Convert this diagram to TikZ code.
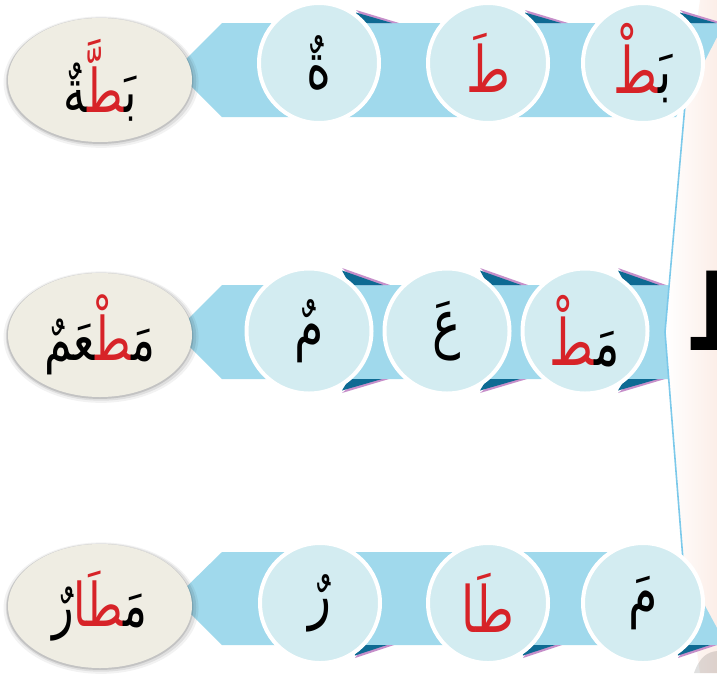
\documentclass[tikz,border=0pt]{standalone}
\usepackage{fontspec}
\usepackage{graphicx}
\newfontfamily\arabicfont[Script=Arabic]{DejaVu Sans}
\usetikzlibrary{shapes.geometric,shadows}
\definecolor{bandblue}{HTML}{A0D9EC}
\definecolor{circfill}{HTML}{D3ECF1}
\definecolor{ellfill}{HTML}{EFEDE3}
\definecolor{arred}{HTML}{D72328}
\definecolor{folddark}{HTML}{0E6A93}
\definecolor{foldpink}{HTML}{C68FCA}
\definecolor{panelpink}{HTML}{FCEEE8}
\definecolor{panelline}{HTML}{7CC9EA}
\newcommand\zj{^^^^200d}
\newcommand\rd[1]{\textcolor{arred}{#1}}
\newcommand\ar[1]{\scalebox{0.95}[1.28]{#1}}
\newcommand\topfold[4]{%
  \fill[foldpink] (#1,#2) -- (#3,#4) -- (#3-30,#4) -- cycle;
  \fill[folddark] (#1,#2+2.5) -- (#3-7,#4) -- (#3-40,#4) -- cycle;}
\newcommand\botfold[4]{%
  \fill[foldpink] (#1,#2) -- (#3,#4) -- (#3-30,#4) -- cycle;
  \fill[folddark] (#1,#2-2.5) -- (#3-7,#4) -- (#3-40,#4) -- cycle;}
\begin{document}
\begin{tikzpicture}[x=1pt,y=-1pt,
  disc/.style={circle, fill=circfill, draw=white, line width=4pt, minimum size=120pt, inner sep=0pt,
    font=\arabicfont\fontsize{50}{60}\selectfont},
  bigdisc/.style={disc, minimum size=125pt},
  word/.style={ellipse, fill=ellfill, minimum width=184pt, minimum height=124pt, inner sep=0pt,
    font=\arabicfont\fontsize{47}{56}\selectfont,
    general shadow={fill=black, opacity=0.05, shadow scale=1.06, shadow yshift=-2pt, shadow xshift=1pt},
    general shadow={fill=black, opacity=0.08, shadow scale=1.035, shadow yshift=-1.5pt, shadow xshift=1pt},
    general shadow={fill=black, opacity=0.12, shadow scale=1.015, shadow yshift=-1pt}},
]
\useasboundingbox (0,0) rectangle (717,673);
\fill[white] (0,0) rectangle (717,673);

% row 2 band (ends under the panel)
\fill[bandblue] (222,285) -- (672,285) -- (672,379) -- (222,379) -- (175,332) -- cycle;

% right panel
\shade[left color=white, right color=panelpink] (700,0) -- (684,118) -- (665,332) -- (683,550) -- (700,673) -- (717,673) -- (717,0) -- cycle;
\draw[panelline, line width=1.6pt] (685,105) -- (665,332) -- (683,560);
\node[anchor=base west, inner sep=0pt, font=\arabicfont\bfseries\fontsize{95}{100}\selectfont] (big) at (684,350) {\scalebox{1}[1.1]{ط}};
\fill[black, opacity=0.12] (694,673) .. controls (700,656) and (708,652) .. (717,651) -- (717,673) -- cycle;

% rows 1 and 3 bands
\fill[bandblue] (222,23) -- (717,23) -- (717,37) -- (676,117) -- (222,117) -- (175,70) -- cycle;
\fill[bandblue] (222,552) -- (676,552) -- (717,628) -- (717,645) -- (222,645) -- (175,598) -- cycle;

% folds row 1
\topfold{356}{10}{399}{23}
\topfold{525}{10}{568}{23}
\topfold{680}{10}{723}{23}
% folds row 2
\topfold{342}{268}{390}{285}
\topfold{480}{268}{528}{285}
\topfold{618}{268}{666}{285}
\botfold{342}{393}{389}{379}
\botfold{480}{393}{527}{379}
\botfold{618}{393}{665}{379}
% folds row 3
\botfold{355}{658}{394}{645}
\botfold{523}{658}{562}{645}
\botfold{678}{658}{717}{645}

% row 1
\node[disc] (c13) at (643,63) {\ar{\rd{\zj طْ}بَ\zj}};
\node[disc] (c12) at (488,63) {\ar{\rd{طَ}}};
\node[disc] (c11) at (319,63) {\ar{ةٌ}};
\node[word] (w1) at (100,80) {\ar{\zj ةٌ\rd{\zj طَّ\zj}بَ\zj}};

% row 2
\node[bigdisc] (c23) at (585,331) {\ar{\rd{\zj طْ}مَ\zj}};
\node[bigdisc] (c22) at (447,331) {\ar{عَ}};
\node[bigdisc] (c21) at (309,331) {\ar{مٌ}};
\node[word] (w2) at (100,335) {\ar{\zj عَمٌ\rd{\zj طْ\zj}مَ\zj}};

% row 3
\node[disc] (c33) at (643,603) {\ar{مَ}};
\node[disc] (c32) at (488,603) {\ar{\rd{طَا}}};
\node[disc] (c31) at (320,603) {\ar{رٌ}};
\node[word] (w3) at (100,606) {\ar{رٌ\rd{\zj طَا}مَ\zj}};
\end{tikzpicture}
\end{document}
